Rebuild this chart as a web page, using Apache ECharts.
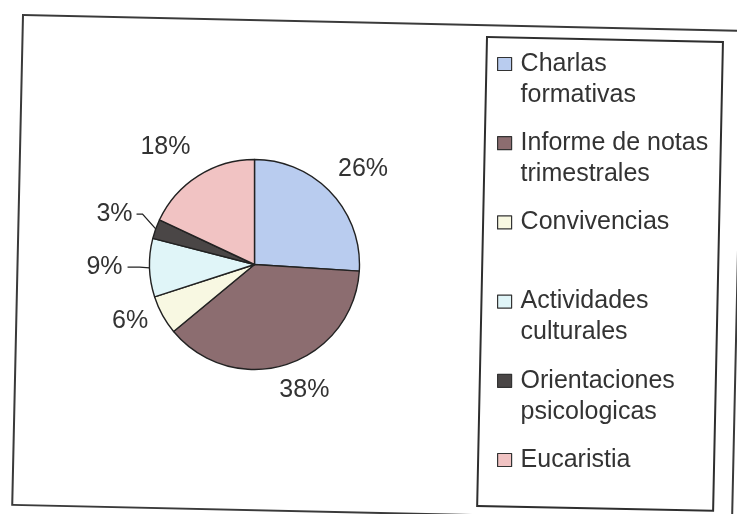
<!DOCTYPE html>
<html>
<head>
<meta charset="utf-8">
<script src="https://cdn.jsdelivr.net/npm/echarts@6/dist/echarts.min.js"></script>
<style>
  html, body { margin: 0; padding: 0; background: #ffffff; }
  #chart { width: 737px; height: 514px; }
</style>
</head>
<body>
<div id="chart"></div>
<script>
// Activity categories and their shares (percent)
const categories = [
  'Charlas formativas',
  'Informe de notas trimestrales',
  'Convivencias',
  'Actividades culturales',
  'Orientaciones psicologicas',
  'Eucaristia'
];
const legendLines = [
  ['Charlas', 'formativas'],
  ['Informe de notas', 'trimestrales'],
  ['Convivencias', ' '],
  ['Actividades', 'culturales'],
  ['Orientaciones', 'psicologicas'],
  ['Eucaristia', ' ']
];
const shares = [26, 38, 6, 9, 3, 18];

// Slice fills
const sliceColors = ['#b9ccef', '#8c6d70', '#f8f8e2', '#e0f5f8', '#4a4646', '#f1c3c3'];

// Small slices that get a leader line: [line length, horizontal length, gap to text]
const leaderLines = { 3: [10, 12, 5], 4: [14, 6, 4] };
// Fine placement of each percentage label
const labelNudge = [[5, 2], [6, -9], [0, -12], [0, -1], [0, -10], [-13, 3]];

const FONT = "'Liberation Sans', Arial, sans-serif";
const INK = '#333333';

const pieData = categories.map((name, i) => {
  const item = { name: name, value: shares[i], itemStyle: { color: sliceColors[i] } };
  if (leaderLines[i]) {
    item.labelLine = { show: true, length: leaderLines[i][0], length2: leaderLines[i][1] };
    item.label = { distanceToLabelLine: leaderLines[i][2] };
  }
  return item;
});

const chart = echarts.init(document.getElementById('chart'), null, { renderer: 'canvas' });

chart.setOption({
  backgroundColor: '#ffffff',
  animation: false,
  graphic: [
    {
      type: 'rect', x: 23, y: 15, rotation: -0.022, z: 0,
      shape: { x: 0, y: 0, width: 720, height: 490 },
      style: { fill: 'none', stroke: '#3a3a3a', lineWidth: 2 }
    },
    {
      type: 'rect', x: 487, y: 37, rotation: -0.021, z: 0,
      shape: { x: 0, y: 0, width: 236, height: 469 },
      style: { fill: 'none', stroke: '#2e2e2e', lineWidth: 2 }
    }
  ],
  legend: {
    orient: 'vertical',
    left: 497,
    top: 17.5,
    padding: 0,
    itemWidth: 14,
    itemHeight: 13,
    itemGap: -13.8,
    icon: 'rect',
    itemStyle: { borderColor: '#333333', borderWidth: 1.2 },
    data: categories,
    // a leading empty line keeps the swatch level with the first text line
    formatter: name => '\n' + legendLines[categories.indexOf(name)].join('\n'),
    textStyle: {
      fontFamily: FONT,
      fontSize: 25,
      color: INK,
      lineHeight: 31,
      padding: [0, 0, 0, 4]
    }
  },
  series: [
    {
      type: 'pie',
      center: [254.5, 264.5],
      radius: 105,
      startAngle: 90,
      clockwise: true,
      avoidLabelOverlap: false,
      itemStyle: { borderColor: '#222222', borderWidth: 1.4 },
      label: {
        show: true,
        position: 'outside',
        formatter: p => p.value + '%',
        fontFamily: FONT,
        fontSize: 25,
        color: INK,
        distanceToLabelLine: 0
      },
      labelLine: {
        show: false,
        length: 37,
        length2: 0,
        lineStyle: { color: '#222222', width: 1.3 }
      },
      labelLayout: function (params) {
        const i = params.dataIndex;
        const n = labelNudge[i];
        const out = { dx: n[0], dy: n[1] };
        if (!leaderLines[i]) {
          out.align = 'center';
        } else if (params.labelLinePoints && n[1]) {
          // keep the line attached to the slice, lift its outer part with the text
          const pts = params.labelLinePoints;
          out.labelLinePoints = pts.map((p, k) => k === 0 ? [p[0], p[1]] : [p[0] + n[0], p[1] + n[1]]);
        }
        return out;
      },
      emphasis: { disabled: true },
      data: pieData
    }
  ]
});
</script>
</body>
</html>
